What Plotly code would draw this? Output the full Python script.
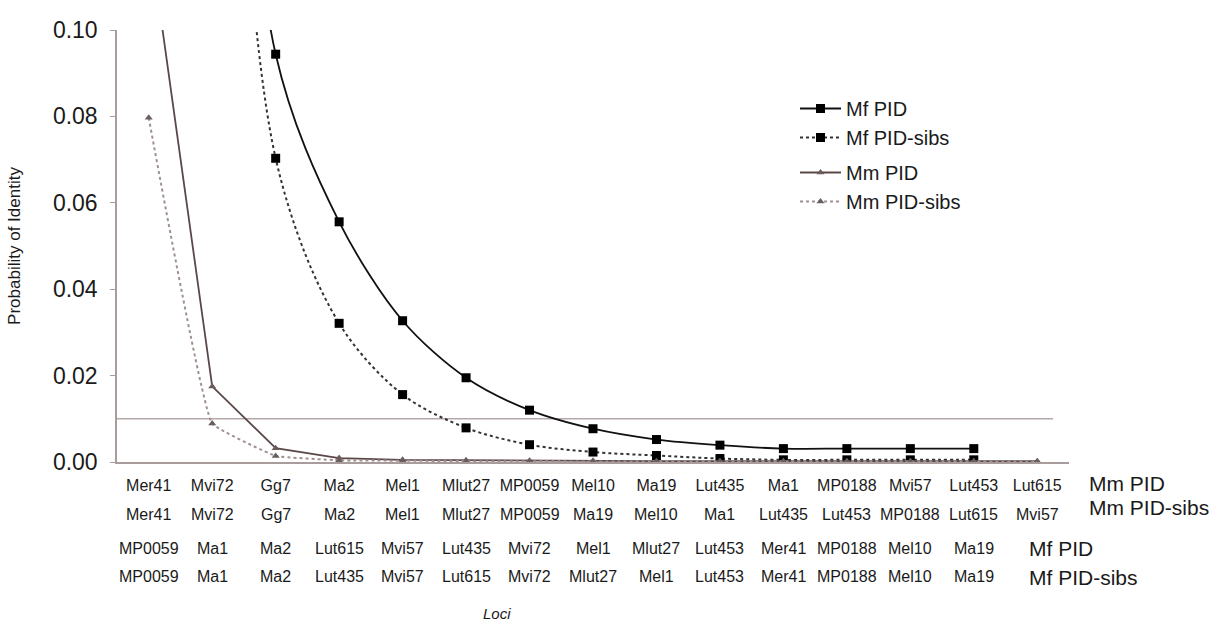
import plotly.graph_objects as go

# ---------------- data ----------------
mm_pid_loci = ["Mer41", "Mvi72", "Gg7", "Ma2", "Mel1", "Mlut27", "MP0059", "Mel10",
               "Ma19", "Lut435", "Ma1", "MP0188", "Mvi57", "Lut453", "Lut615"]
mm_sibs_loci = ["Mer41", "Mvi72", "Gg7", "Ma2", "Mel1", "Mlut27", "MP0059", "Ma19",
                "Mel10", "Ma1", "Lut435", "Lut453", "MP0188", "Lut615", "Mvi57"]
mf_pid_loci = ["MP0059", "Ma1", "Ma2", "Lut615", "Mvi57", "Lut435", "Mvi72", "Mel1",
               "Mlut27", "Lut453", "Mer41", "MP0188", "Mel10", "Ma19"]
mf_sibs_loci = ["MP0059", "Ma1", "Ma2", "Lut435", "Mvi57", "Lut615", "Mvi72", "Mlut27",
                "Mel1", "Lut453", "Mer41", "MP0188", "Mel10", "Ma19"]

mf_pid = [0.45, 0.26, 0.0944, 0.0556, 0.0327, 0.0195, 0.0120, 0.0077, 0.0052,
          0.0039, 0.0031, 0.0031, 0.0031, 0.0031]
mf_pid_sibs = [0.45, 0.25, 0.0703, 0.0321, 0.0156, 0.0079, 0.0040, 0.0023, 0.0015,
               0.0008, 0.0005, 0.0005, 0.0005, 0.0005]
mm_pid = [0.123, 0.0175, 0.0032, 0.0009, 0.0005, 0.0004, 0.0003, 0.0003, 0.0002,
          0.0002, 0.0002, 0.0002, 0.0002, 0.0002, 0.0002]
mm_pid_sibs = [0.0797, 0.0089, 0.0014, 0.0004, 0.0003, 0.0002, 0.0002, 0.0001, 0.0001,
               0.0001, 0.0001, 0.0001, 0.0001, 0.0001, 0.0001]
threshold = 0.01

y_ticks = [0.0, 0.02, 0.04, 0.06, 0.08, 0.10]

# ---------------- layout constants ----------------
W, H = 1219, 622
ML, MR, MT, MB = 117, 150, 30, 160
PW, PH = W - ML - MR, H - MT - MB
FONT = "Liberation Sans, Arial, sans-serif"


def py(ypx):
    return (H - MB - ypx) / PH


def px(xpx):
    return (xpx - ML) / PW


fig = go.Figure()

fig.add_trace(go.Scatter(
    x=list(range(len(mf_pid))), y=mf_pid, name="Mf PID", mode="lines+markers",
    line=dict(color="#111111", width=1.8, shape="spline", smoothing=0.9),
    marker=dict(symbol="square", size=9, color="#000000"),
    legendgroup="mf"))
fig.add_trace(go.Scatter(
    x=list(range(len(mf_pid_sibs))), y=mf_pid_sibs, name="Mf PID-sibs", mode="lines+markers",
    line=dict(color="#333333", width=2, dash="dot", shape="spline", smoothing=0.9),
    marker=dict(symbol="square", size=9, color="#000000"),
    legendgroup="mf"))
fig.add_trace(go.Scatter(
    x=list(range(len(mm_pid))), y=mm_pid, name="Mm PID", mode="lines+markers",
    line=dict(color="#5a4848", width=1.8),
    marker=dict(symbol="triangle-up", size=7, color="#6a5a5a"),
    legendgroup="mm"))
fig.add_trace(go.Scatter(
    x=list(range(len(mm_pid_sibs))), y=mm_pid_sibs, name="Mm PID-sibs", mode="lines+markers",
    line=dict(color="#a09090", width=2, dash="dot", shape="spline", smoothing=0.25),
    marker=dict(symbol="triangle-up", size=7, color="#6a5f5f"),
    legendgroup="mm"))

# threshold line
fig.add_shape(type="line", xref="x", yref="y", x0=-0.5, x1=14.25,
              y0=threshold, y1=threshold, line=dict(color="#b5a8a8", width=1.5),
              layer="below")

annotations = []
row_specs = [(mm_sibs_loci, 514), (mf_pid_loci, 548), (mf_sibs_loci, 576)]
for labels, ypix in row_specs:
    for i, lab in enumerate(labels):
        annotations.append(dict(x=i, y=py(ypix), xref="x", yref="paper", text=lab,
                                showarrow=False, xanchor="center", yanchor="middle",
                                font=dict(size=16, color="#1a1a1a", family=FONT)))

side_labels = [("Mm PID", 1087, 483), ("Mm PID-sibs", 1087, 508),
               ("Mf PID", 1027, 548), ("Mf PID-sibs", 1027, 577)]
for text, xpix, ypix in side_labels:
    annotations.append(dict(x=px(xpix), y=py(ypix), xref="paper", yref="paper", text=text,
                            showarrow=False, xanchor="left", yanchor="middle",
                            font=dict(size=21, color="#1a1a1a", family=FONT)))

annotations.append(dict(x=px(497), y=py(613), xref="paper", yref="paper",
                        text="<i>Loci</i>", showarrow=False, xanchor="center",
                        yanchor="middle", font=dict(size=15, color="#1a1a1a", family=FONT)))

fig.update_layout(
    width=W, height=H, autosize=False,
    margin=dict(l=ML, r=MR, t=MT, b=MB, pad=0),
    paper_bgcolor="white", plot_bgcolor="white",
    font=dict(family=FONT, color="#1a1a1a"),
    showlegend=True,
    legend=dict(x=px(795), y=py(89), xanchor="left", yanchor="top",
                font=dict(size=20, family=FONT, color="#1a1a1a"),
                bgcolor="rgba(0,0,0,0)", tracegroupgap=6, itemwidth=41,
                traceorder="grouped"),
    xaxis=dict(range=[-0.5, 14.5], tickmode="array",
               tickvals=list(range(len(mm_pid_loci))), ticktext=mm_pid_loci,
               showgrid=False, zeroline=False, showline=True,
               linecolor="#a89c9c", linewidth=1.5, ticks="",
               ticklabelstandoff=8,
               tickfont=dict(size=16, family=FONT, color="#1a1a1a")),
    yaxis=dict(range=[0, 0.1], tickmode="array", tickvals=y_ticks,
               tickformat=".2f", showgrid=False, zeroline=False, showline=True,
               linecolor="#a89c9c", linewidth=1.5, ticks="outside", ticklen=5,
               tickcolor="#a89c9c", ticklabelstandoff=8,
               tickfont=dict(size=23, family=FONT, color="#1a1a1a"),
               title=dict(text="Probability of Identity", standoff=28,
                          font=dict(size=17, family=FONT, color="#1a1a1a"))),
    annotations=annotations,
)

fig.write_html("out.html")
